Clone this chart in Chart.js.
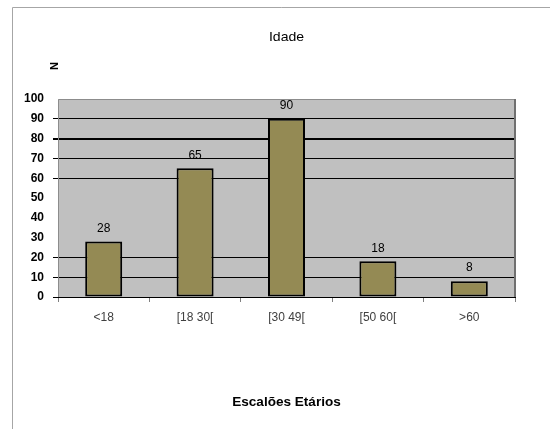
<!DOCTYPE html>
<html>
<head>
<meta charset="utf-8">
<script src="https://cdn.jsdelivr.net/npm/chart.js@4"></script>
<style>
  html, body { margin: 0; padding: 0; background: #ffffff; }
  #wrap { width: 550px; height: 429px; }
</style>
</head>
<body>
<div id="wrap"><canvas id="c" width="550" height="429"></canvas></div>
<script>
// Age groups and respondent counts
const categories = ['<18', '[18 30[', '[30 49[', '[50 60[', '>60'];
const counts = [28, 65, 90, 18, 8];
const yTicks = [0, 10, 20, 30, 40, 50, 60, 70, 80, 90, 100];
const hiddenGridValues = [30, 40, 50, 100];
const chartTitle = 'Idade';
const yTitle = 'N';
const xTitle = 'Escalões Etários';

const FONT = '"Liberation Sans", Arial, sans-serif';

// Draws text slightly widened horizontally around its centre
function wideText(ctx, text, x, y, font, sx) {
  ctx.save();
  ctx.font = font;
  ctx.textAlign = 'center';
  ctx.textBaseline = 'middle';
  ctx.translate(x, y);
  ctx.scale(sx, 1);
  ctx.fillText(text, 0, 0);
  ctx.restore();
}

// Frame, plot background and border, titles
const decorations = {
  id: 'decorations',
  beforeDraw(chart) {
    const { ctx, chartArea: a } = chart;
    ctx.save();
    ctx.fillStyle = '#ffffff';
    ctx.fillRect(0, 0, chart.width, chart.height);
    // outer frame (top and left edges)
    ctx.strokeStyle = '#a6a6a6';
    ctx.lineWidth = 1;
    ctx.beginPath();
    ctx.moveTo(550, 7.5);
    ctx.lineTo(12.5, 7.5);
    ctx.lineTo(12.5, 429);
    ctx.stroke();
    // plot area background
    ctx.fillStyle = '#c0c0c0';
    ctx.fillRect(a.left, a.top, a.right - a.left, a.bottom - a.top);
    ctx.restore();
  },
  afterDraw(chart) {
    const { ctx, chartArea: a } = chart;
    ctx.save();
    // plot border (top, left, right)
    ctx.strokeStyle = '#8c8c8c';
    ctx.lineWidth = 1;
    ctx.beginPath();
    ctx.moveTo(a.left + 0.5, a.bottom);
    ctx.lineTo(a.left + 0.5, a.top + 0.5);
    ctx.lineTo(a.right - 0.5, a.top + 0.5);
    ctx.stroke();
    ctx.strokeStyle = '#707070';
    ctx.lineWidth = 2;
    ctx.beginPath();
    ctx.moveTo(a.right, a.top);
    ctx.lineTo(a.right, a.bottom);
    ctx.stroke();

    const cx = (a.left + a.right) / 2;
    ctx.fillStyle = '#000000';

    // chart title
    wideText(ctx, chartTitle, cx, 37, '13px ' + FONT, 1.08);

    // x axis title
    wideText(ctx, xTitle, cx, 403, 'bold 12px ' + FONT, 1.13);

    // y axis title, rotated
    ctx.translate(55, 66);
    ctx.rotate(-Math.PI / 2);
    ctx.font = 'bold 11px ' + FONT;
    ctx.textAlign = 'center';
    ctx.textBaseline = 'middle';
    ctx.fillText(yTitle, 0, 0);
    ctx.restore();
  }
};

// Value labels above the bars
const valueLabels = {
  id: 'valueLabels',
  afterDatasetsDraw(chart) {
    const { ctx } = chart;
    const meta = chart.getDatasetMeta(0);
    ctx.save();
    ctx.fillStyle = '#000000';
    ctx.font = '12px ' + FONT;
    ctx.textAlign = 'center';
    ctx.textBaseline = 'middle';
    meta.data.forEach((bar, i) => {
      ctx.fillText(String(counts[i]), bar.x, bar.y - 13);
    });
    ctx.restore();
  }
};

new Chart(document.getElementById('c'), {
  type: 'bar',
  data: {
    labels: categories,
    datasets: [{
      data: counts,
      backgroundColor: '#948a54',
      borderColor: '#000000',
      borderWidth: 2,
      borderSkipped: false,
      categoryPercentage: 1,
      barPercentage: 0.405
    }]
  },
  options: {
    responsive: false,
    animation: false,
    devicePixelRatio: 1,
    layout: { padding: { left: 12, right: 35, top: 99, bottom: 0 } },
    plugins: {
      legend: { display: false },
      title: { display: false },
      tooltip: { enabled: false }
    },
    scales: {
      x: {
        grid: {
          offset: true,
          drawOnChartArea: false,
          drawTicks: true,
          tickLength: 5,
          color: '#808080'
        },
        border: { display: true, color: '#000000', width: 1 },
        ticks: {
          color: '#404040',
          font: { family: FONT, size: 12 },
          padding: 8,
          maxRotation: 0
        },
        afterFit(scale) { scale.height = 132; }
      },
      y: {
        min: 0,
        max: 100,
        afterBuildTicks(scale) {
          scale.ticks = yTicks.map(v => ({ value: v }));
        },
        grid: {
          drawTicks: true,
          tickLength: 5,
          color(ctx) {
            const v = ctx.tick && ctx.tick.value;
            if (v === 0) return '#000000';
            return hiddenGridValues.includes(v) ? 'rgba(0,0,0,0)' : '#000000';
          },
          lineWidth(ctx) {
            const v = ctx.tick && ctx.tick.value;
            return v === 80 ? 2 : 1;
          }
        },
        border: { display: false },
        ticks: {
          color: '#000000',
          font: { family: FONT, size: 12, weight: 'bold' },
          padding: 9
        },
        afterFit(scale) { scale.width = 46; }
      }
    }
  },
  plugins: [decorations, valueLabels]
});
</script>
</body>
</html>
